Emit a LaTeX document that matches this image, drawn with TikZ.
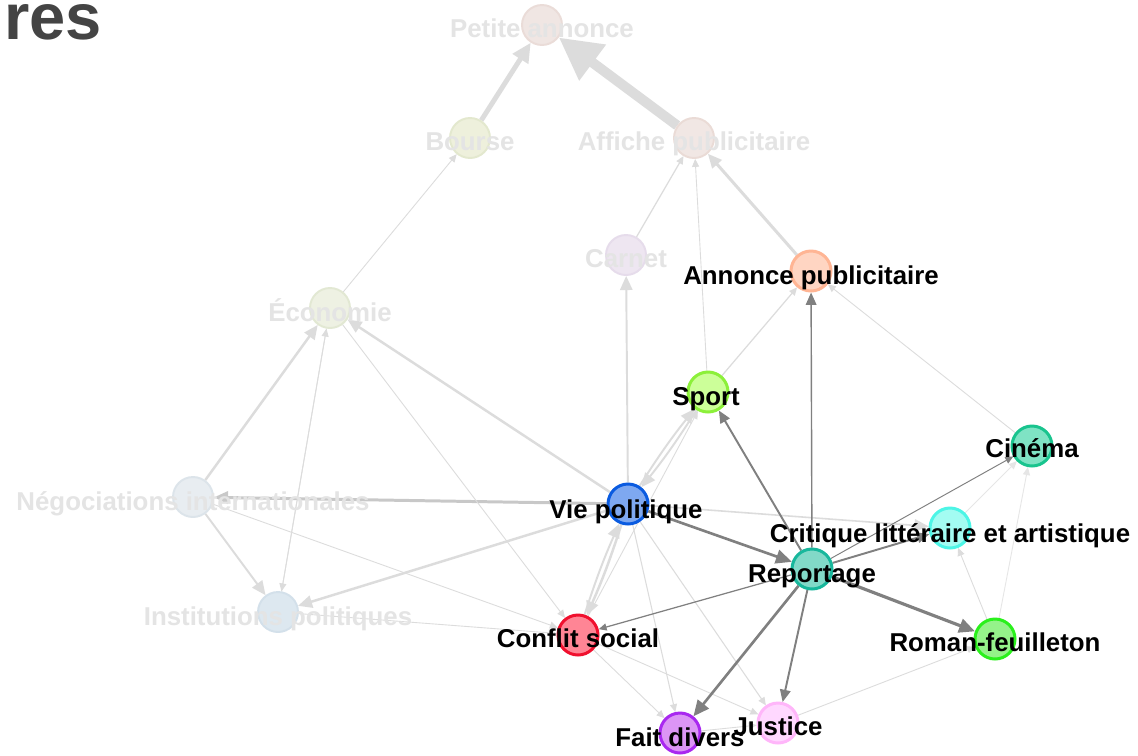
\documentclass[tikz,border=0pt]{standalone}
\usepackage{fontspec}
\setmainfont{Liberation Sans}
\usetikzlibrary{arrows.meta,backgrounds}
\definecolor{Title}{HTML}{444444}
\definecolor{FadeText}{HTML}{E4E4E4}
\definecolor{FadeEdge}{HTML}{DCDCDC}
\definecolor{GreyEdge}{HTML}{C8C8C8}
\definecolor{DarkEdge}{HTML}{808080}
\definecolor{PetiteFill}{HTML}{F0E6E3}
\definecolor{PetiteLine}{HTML}{EADCD8}
\definecolor{BourseFill}{HTML}{EEF0DC}
\definecolor{BourseLine}{HTML}{E3E8CE}
\definecolor{AfficheFill}{HTML}{F1E7E4}
\definecolor{AfficheLine}{HTML}{EADBD6}
\definecolor{CarnetFill}{HTML}{EEE6F1}
\definecolor{CarnetLine}{HTML}{E6DCEB}
\definecolor{EcoFill}{HTML}{EEF1E3}
\definecolor{EcoLine}{HTML}{E2E8D3}
\definecolor{NegoFill}{HTML}{E8EDF1}
\definecolor{NegoLine}{HTML}{DCE4EA}
\definecolor{InstFill}{HTML}{DDE8F0}
\definecolor{InstLine}{HTML}{D3E0EA}
\definecolor{AnnonceFill}{HTML}{FFD5C2}
\definecolor{AnnonceLine}{HTML}{FFB594}
\definecolor{SportFill}{HTML}{CCFF99}
\definecolor{SportLine}{HTML}{8CF03A}
\definecolor{CinemaFill}{HTML}{7FE3C4}
\definecolor{CinemaLine}{HTML}{19C48E}
\definecolor{VieFill}{HTML}{7EA8F0}
\definecolor{VieLine}{HTML}{0A5BE0}
\definecolor{CritiqueFill}{HTML}{A3FCF2}
\definecolor{CritiqueLine}{HTML}{4DF5E6}
\definecolor{ReportFill}{HTML}{82D9C8}
\definecolor{ReportLine}{HTML}{18B79C}
\definecolor{ConflitFill}{HTML}{FF8595}
\definecolor{ConflitLine}{HTML}{F0102E}
\definecolor{RomanFill}{HTML}{95F28A}
\definecolor{RomanLine}{HTML}{2AF01C}
\definecolor{FaitFill}{HTML}{DC95F5}
\definecolor{FaitLine}{HTML}{A928F0}
\definecolor{JusticeFill}{HTML}{FFD8FF}
\definecolor{JusticeLine}{HTML}{FFB6FA}
\tikzset{
  topic/.style={circle, minimum size=0.8cm, inner sep=0pt, line width=1.7pt},
  faded/.style={circle, minimum size=0.8cm, inner sep=0pt, line width=1.1pt},
  tag/.style={anchor=base, inner sep=0pt, text=black,
    font=\fontsize{14.7}{17}\selectfont\bfseries},
  fadedtag/.style={tag, text=FadeText},
  title/.style={anchor=base east, inner sep=0pt, text=Title,
    font=\fontsize{37}{42}\selectfont\bfseries},
  heavy/.style={-{Triangle[length=24pt,width=24pt]}, line width=5.7pt, draw=FadeEdge},
  broad/.style={-{Triangle[length=11pt,width=10pt]}, line width=2.8pt, draw=FadeEdge},
  soft/.style={-{Triangle[length=8pt,width=7pt]}, line width=1.4pt, draw=FadeEdge},
  faint/.style={-{Triangle[length=4.5pt,width=4pt]}, line width=0.5pt, draw=FadeEdge},
  link/.style={-{Triangle[length=7pt,width=6pt]}, line width=1.1pt, draw=DarkEdge},
  thinlink/.style={-{Triangle[length=4.5pt,width=4pt]}, line width=0.55pt, draw=DarkEdge},
  boldlink/.style={-{Triangle[length=9pt,width=8pt]}, line width=1.5pt, draw=DarkEdge}
}

\begin{document}
\begin{tikzpicture}[x=0.02cm,y=-0.02cm]
  \useasboundingbox (0,0) rectangle (1138,755);
  \node[title] (ttl) at (102,39) {res};
  % faded topics
  \node[faded,fill=PetiteFill,draw=PetiteLine] (petite) at (542,25) {};
  \node[faded,fill=BourseFill,draw=BourseLine] (bourse) at (470,138) {};
  \node[faded,fill=AfficheFill,draw=AfficheLine] (affiche) at (694,138) {};
  \node[faded,fill=CarnetFill,draw=CarnetLine] (carnet) at (626,255) {};
  \node[faded,fill=EcoFill,draw=EcoLine] (eco) at (330,308) {};
  \node[faded,fill=NegoFill,draw=NegoLine] (nego) at (193,497) {};
  \node[faded,fill=InstFill,draw=InstLine] (inst) at (278,612) {};
  % active topics
  \node[topic,fill=AnnonceFill,draw=AnnonceLine] (annonce) at (811,271) {};
  \node[topic,fill=SportFill,draw=SportLine] (sport) at (708,392) {};
  \node[topic,fill=CinemaFill,draw=CinemaLine] (cinema) at (1032,446) {};
  \node[topic,fill=VieFill,draw=VieLine] (vp) at (628,504) {};
  \node[topic,fill=CritiqueFill,draw=CritiqueLine] (critique) at (950,528) {};
  \node[topic,fill=ReportFill,draw=ReportLine] (reportage) at (812,569) {};
  \node[topic,fill=ConflitFill,draw=ConflitLine] (conflit) at (578,635) {};
  \node[topic,fill=RomanFill,draw=RomanLine] (roman) at (995,639) {};
  \node[topic,fill=FaitFill,draw=FaitLine] (fait) at (680,733) {};
  \node[topic,fill=JusticeFill,draw=JusticeLine] (justice) at (778,723) {};
  % labels
  \node[fadedtag] (petite-t) at (542,37) {Petite annonce};
  \node[fadedtag] (bourse-t) at (470,150) {Bourse};
  \node[fadedtag] (affiche-t) at (694,150) {Affiche publicitaire};
  \node[fadedtag] (carnet-t) at (626,267) {Carnet};
  \node[fadedtag] (eco-t) at (330,321) {Économie};
  \node[fadedtag] (nego-t) at (193,510) {Négociations internationales};
  \node[fadedtag] (inst-t) at (278,625) {Institutions politiques};
  \node[tag] (annonce-t) at (811,284) {Annonce publicitaire};
  \node[tag] (sport-t) at (706,405) {Sport};
  \node[tag] (cinema-t) at (1032,457) {Cinéma};
  \node[tag] (vp-t) at (626,518) {Vie politique};
  \node[tag] (critique-t) at (950,542) {Critique littéraire et artistique};
  \node[tag] (reportage-t) at (812,582) {Reportage};
  \node[tag] (conflit-t) at (578,647) {Conflit social};
  \node[tag] (roman-t) at (995,651) {Roman-feuilleton};
  \node[tag] (fait-t) at (680,746) {Fait divers};
  \node[tag] (justice-t) at (778,735) {Justice};
  \begin{scope}[on background layer]
    \fill[white] (0,0) rectangle (1138,755);
    % faded links
    \draw[heavy] (affiche) -- (petite);
    \draw[broad] (bourse) -- (petite);
    \draw[faint] (eco) -- (bourse);
    \draw[faint,line width=0.7pt] (carnet) -- (affiche);
    \draw[faint] (sport) -- (affiche);
    \draw[soft,line width=1.7pt] (annonce) -- (affiche);
    \draw[soft,line width=1.1pt] (vp) -- (carnet);
    \draw[faint,line width=0.7pt] (sport) -- (annonce);
    \draw[faint] (cinema) -- (annonce);
    \draw[faint,draw=FadeEdge!70] (critique) -- (cinema);
    \draw[faint,draw=FadeEdge!70] (roman) -- (cinema);
    \draw[faint] (roman) -- (critique);
    \draw[soft,line width=0.9pt] (vp) -- (critique);
    \draw[faint] (justice) -- (roman);
    \draw[soft] (vp) -- (eco);
    \draw[soft,draw=GreyEdge,line width=1.7pt] (vp) -- (nego);
    \draw[soft] (vp) -- (inst);
    \draw[soft] (vp) to[bend left=3] (conflit);
    \draw[soft,line width=1.1pt] (conflit) to[bend left=3] (vp);
    \draw[soft,line width=1.1pt] (vp) to[bend left=3] (sport);
    \draw[soft,line width=1.1pt] (sport) to[bend left=3] (vp);
    \draw[faint] (conflit) -- (sport);
    \draw[faint,line width=0.6pt] (vp) -- (fait);
    \draw[faint,line width=0.6pt] (vp) -- (justice);
    \draw[faint] (conflit) -- (fait);
    \draw[faint] (conflit) -- (justice);
    \draw[faint] (fait) -- (justice);
    \draw[soft] (nego) -- (eco);
    \draw[soft,line width=1.1pt] (nego) -- (inst);
    \draw[faint] (inst) -- (eco);
    \draw[faint] (eco) -- (inst);
    \draw[faint] (eco) -- (conflit);
    \draw[faint] (nego) -- (conflit);
    \draw[faint] (inst) -- (conflit);
    % reportage links
    \draw[boldlink] (vp) -- (reportage);
    \draw[link] (reportage) -- (sport);
    \draw[link,line width=0.8pt] (reportage) -- (annonce);
    \draw[link] (reportage) -- (critique);
    \draw[thinlink] (reportage) -- (cinema);
    \draw[boldlink,line width=1.8pt] (reportage) -- (roman);
    \draw[boldlink] (reportage) -- (fait);
    \draw[link] (reportage) -- (justice);
    \draw[thinlink,line width=0.7pt] (reportage) -- (conflit);
  \end{scope}
\end{tikzpicture}
\end{document}
